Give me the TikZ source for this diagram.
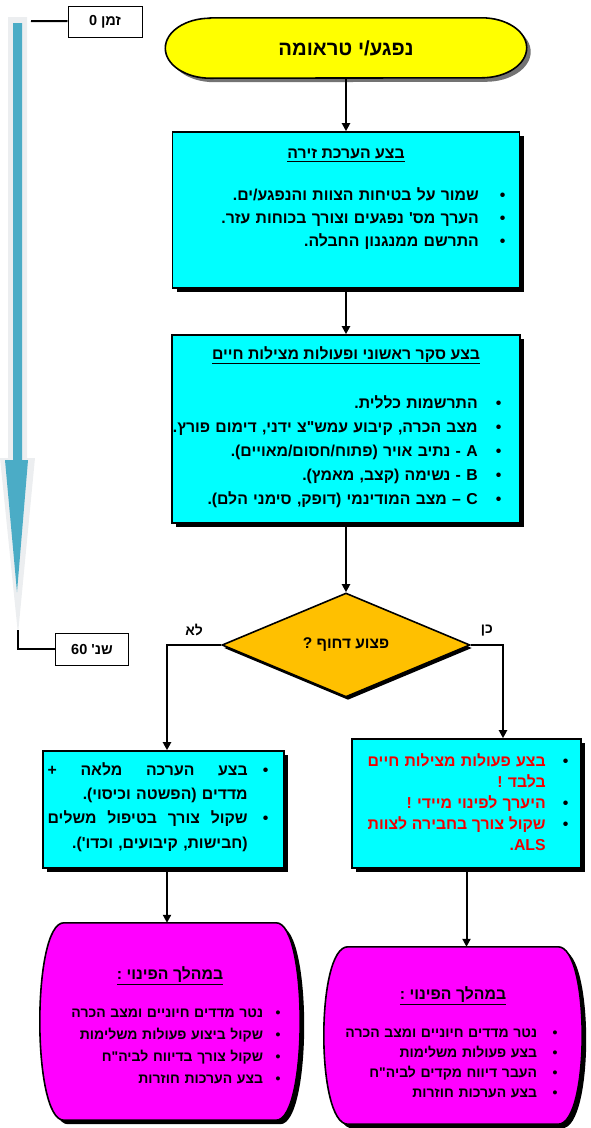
\documentclass[tikz,border=0pt]{standalone}
\usepackage{fontspec}
\usepackage{xcolor}
\usepackage{tikz}
\usetikzlibrary{arrows.meta, positioning, shapes.geometric, shadows, backgrounds}
\TeXXeTstate=1
\newfontfamily\heb[Script=Hebrew]{Liberation Sans}
\definecolor{trmyel}{RGB}{255,255,0}
\definecolor{boxcyan}{RGB}{0,255,255}
\definecolor{decamber}{RGB}{255,192,0}
\definecolor{evmag}{RGB}{255,0,255}
\definecolor{tlblue}{RGB}{75,172,198}
\definecolor{tlgray}{RGB}{236,238,240}
\definecolor{alarm}{RGB}{240,0,0}
\newcommand{\rl}[1]{\leavevmode\hbox{\beginR #1\endR}}
\newcommand{\jst}[2]{\makebox[#1][s]{\spaceskip=0pt\xspaceskip=0pt\relax#2}}
\newcommand{\bul}[2][18pt]{\leavevmode#2\hskip#1\relax\textbullet}
\newcommand{\cnt}[2][18pt]{\leavevmode#2\hskip#1\relax\phantom{\textbullet}}

\begin{document}
\begin{tikzpicture}[x=1pt, y=1pt, every node/.style={font=\heb\bfseries},
      box/.style={draw, line width=1.6pt, fill=boxcyan, inner sep=0,
                  drop shadow={shadow xshift=4pt, shadow yshift=-4pt, fill=black, opacity=1}},
      dec/.style={diamond, draw, line width=1.6pt, fill=decamber, inner sep=0,
                  minimum width=248pt, minimum height=104pt,
                  drop shadow={shadow xshift=2pt, shadow yshift=-3pt, fill=black, opacity=1}},
      shp/.style={draw, line width=1.6pt, fill=#1,
                  drop shadow={shadow xshift=4pt, shadow yshift=-4pt, fill=black, opacity=1}},
      ttl/.style={font=\heb\bfseries\fontsize{15.8}{18}\selectfont},
      lst/.style={align=right, inner sep=0, font=\heb\bfseries\fontsize{15.8}{#1}\selectfont},
      tbox/.style={draw, line width=1pt, fill=white, font=\heb\bfseries\fontsize{14.5}{16}\selectfont},
      yn/.style={font=\heb\bfseries\fontsize{14}{16}\selectfont},
      ar/.style={-{Triangle[length=8pt, width=8pt]}, line width=2pt},
      ln/.style={line width=2pt}]
    \useasboundingbox (0,0) rectangle (590,-1128);

    % time line
    \fill[tlgray] (8,-17) -- (27,-17) -- (27,-458) -- (35,-458) -- (18,-634) -- (0,-458) -- (8,-458) -- cycle;
    \fill[tlblue] (13,-23) -- (22,-23) -- (22,-460) -- (28,-460) -- (17,-592) -- (5,-460) -- (13,-460) -- cycle;
    \coordinate (ttop) at (31,-21);
    \coordinate (tbot) at (18,-630);
    \node[tbox, minimum width=74pt, minimum height=31pt] (t0) at (105,-21.5) {\rl{זמן 0}};
    \node[tbox, minimum width=73pt, minimum height=32pt] (t60) at (92,-649) {\rl{שנ' 60}};
    \draw[ln] (ttop) -- (t0);
    \draw[ln] (tbot) |- (t60);

    % start
    \node[minimum width=361pt, minimum height=60pt, inner sep=0] (start) at (346,-48)
      {\fontsize{20.3}{22}\selectfont\rl{נפגע/י טראומה}};
    \begin{scope}[on background layer]
      \draw[line width=1.6pt, fill=trmyel,
            drop shadow={shadow xshift=4pt, shadow yshift=-4pt, fill=black!55, opacity=1}]
        ([xshift=45pt]start.north west) -- ([xshift=-45pt]start.north east)
        arc[start angle=90, end angle=-90, x radius=45pt, y radius=30pt]
        -- ([xshift=45pt]start.south west)
        arc[start angle=270, end angle=90, x radius=45pt, y radius=30pt] -- cycle;
    \end{scope}

    % scene
    \node[box, minimum width=347pt, minimum height=156pt] (scene) at (346,-210) {};
    \node[ttl] (sceneT) at ([yshift=-24pt]scene.north) {\underline{\rl{בצע הערכת זירה}}};
    \node[lst=23pt, text width=300pt, anchor=north east] (sceneL) at ([xshift=-14.7pt, yshift=-56pt]scene.north east)
      {\bul[21pt]{\rl{שמור על בטיחות הצוות והנפגע/ים.}}\\
       \bul[21pt]{\rl{הערך מס' נפגעים וצורך בכוחות עזר.}}\\
       \bul[21pt]{\rl{התרשם ממנגנון החבלה.}}};

    % primary survey
    \node[box, minimum width=348pt, minimum height=188pt] (survey) at (346,-429) {};
    \node[ttl] (surveyT) at ([yshift=-21pt]survey.north) {\underline{\rl{בצע סקר ראשוני ופעולות מצילות חיים}}};
    \node[lst=24pt, text width=330pt, anchor=north east] (surveyL) at ([xshift=-19.2pt, yshift=-61pt]survey.north east)
      {\bul[18.2pt]{\rl{התרשמות כללית.}}\\
       \bul[18.2pt]{\rl{מצב הכרה, קיבוע עמש"צ ידני, דימום פורץ.}}\\
       \bul[18.2pt]{\rl{A - נתיב אויר (פתוח/חסום/מאויים).}}\\
       \bul[18.2pt]{\rl{B - נשימה (קצב, מאמץ).}}\\
       \bul[18.2pt]{\rl{C – מצב המודינמי (דופק, סימני הלם).}}};

    % decision
    \node[dec] (urg) at (346,-645) {\fontsize{15.5}{17}\selectfont\rl{פצוע דחוף ?}};

    % not urgent
    \node[box, minimum width=241pt, minimum height=117pt] (noU) at (163.5,-809.5) {};
    \node[lst=24.3pt, text width=230pt, anchor=north east] (noUL) at ([xshift=-16.2pt, yshift=-12pt]noU.north east)
      {\bul[15.2pt]{\jst{200pt}{\beginR בצע הערכה מלאה +\endR}}\\
       \cnt[15.2pt]{\rl{מדדים (הפשטה וכיסוי).}}\\
       \bul[15.2pt]{\jst{200pt}{\beginR שקול צורך בטיפול משלים\endR}}\\
       \cnt[15.2pt]{\rl{(חבישות, קיבועים, וכדו').}}};

    % urgent
    \node[box, minimum width=229pt, minimum height=129pt] (yesU) at (466.5,-803.5) {};
    \node[lst=21pt, text width=215pt, anchor=north east] (yesUL) at ([xshift=-13.2pt, yshift=-15pt]yesU.north east)
      {\bul[17.2pt]{\textcolor{alarm}{\jst{178pt}{\beginR בצע פעולות מצילות חיים\endR}}}\\
       \cnt[17.2pt]{\textcolor{alarm}{\rl{בלבד !}}}\\
       \bul[17.2pt]{\textcolor{alarm}{\rl{היערך לפינוי מיידי !}}}\\
       \bul[17.2pt]{\textcolor{alarm}{\jst{178pt}{\beginR שקול צורך בחבירה לצוות\endR}}}\\
       \cnt[17.2pt]{\textcolor{alarm}{.ALS}}};

    % evacuation
    \node[minimum width=260pt, minimum height=197pt, inner sep=0] (evL) at (170,-1021.5) {};
    \node[minimum width=258pt, minimum height=177pt, inner sep=0] (evR) at (453,-1035.5) {};
    \begin{scope}[on background layer]
      \foreach \ev in {evL, evR}
        \draw[shp=evmag] ([xshift=24pt]\ev.north west) -- ([xshift=-24pt]\ev.north east)
          .. controls ([xshift=8pt]\ev.north east) and ([xshift=8pt]\ev.south east) .. ([xshift=-24pt]\ev.south east)
          -- ([xshift=24pt]\ev.south west)
          .. controls ([xshift=-8pt]\ev.south west) and ([xshift=-8pt]\ev.north west) .. cycle;
    \end{scope}
    \node[ttl] (evLT) at ([yshift=-53pt]evL.north) {\underline{\rl{במהלך הפינוי :}}};
    \node[lst=22pt, text width=240pt, anchor=north east, font=\heb\bfseries\fontsize{14}{22}\selectfont] (evLL)
      at ([xshift=-19.5pt, yshift=-86pt]evL.north east)
      {\bul[12.5pt]{\rl{נטר מדדים חיוניים ומצב הכרה}}\\
       \bul[12.5pt]{\rl{שקול ביצוע פעולות משלימות}}\\
       \bul[12.5pt]{\rl{שקול צורך בדיווח לביה"ח}}\\
       \bul[12.5pt]{\rl{בצע הערכות חוזרות}}};
    \node[ttl] (evRT) at ([yshift=-49pt]evR.north) {\underline{\rl{במהלך הפינוי :}}};
    \node[lst=20pt, text width=240pt, anchor=north east, font=\heb\bfseries\fontsize{14}{20}\selectfont] (evRL)
      at ([xshift=-24.5pt, yshift=-82pt]evR.north east)
      {\bul[15.5pt]{\rl{נטר מדדים חיוניים ומצב הכרה}}\\
       \bul[15.5pt]{\rl{בצע פעולות משלימות}}\\
       \bul[15.5pt]{\rl{העבר דיווח מקדים לביה"ח}}\\
       \bul[15.5pt]{\rl{בצע הערכות חוזרות}}};

    % connectors
    \draw[ar] (start.south) -- (scene.north);
    \draw[ar] (scene.south) -- (survey.north);
    \draw[ar] (survey.south) -- (urg.north);
    \draw[ar] (urg.west) -| node[pos=0.25, above=5pt, yn] {\rl{לא}} ([xshift=3.5pt]noU.north);
    \draw[ar] (urg.east) -| node[pos=0.25, above=5pt, yn] {\rl{כן}} ([xshift=36.5pt]yesU.north);
    \draw[ar] ([xshift=3.5pt]noU.south) -- ([xshift=3.5pt]noU.south |- evL.north);
    \draw[ar] (yesU.south) -- (yesU.south |- evR.north);
  \end{tikzpicture}
\end{document}
